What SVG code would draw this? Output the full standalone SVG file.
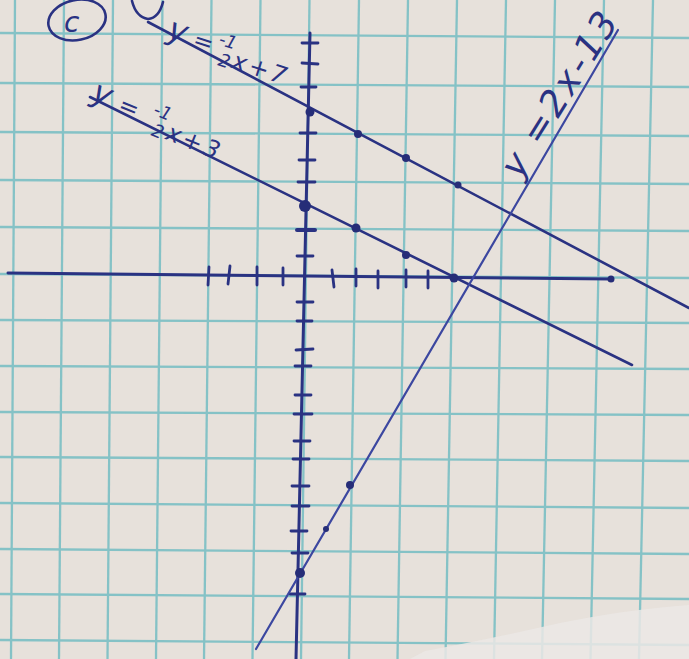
<svg xmlns="http://www.w3.org/2000/svg" width="689" height="659" viewBox="0 0 689 659">
<style>
.grid line{stroke:#85c2c6;stroke-width:2.3}
.ink{stroke:#2a3282;fill:none;stroke-linecap:round}
.ax{stroke-width:3}
.gl{stroke-width:2.6}
.tk{stroke:#2a3282;stroke-width:2.8;stroke-linecap:round}
.dot{fill:#262d78}
.lbl{fill:#2a3282;font-family:"DejaVu Sans","Liberation Sans",sans-serif;font-style:italic}
</style>
<rect width="689" height="659" fill="#e7e1db"/>
<g id="grid" class="grid">
<line x1="15" y1="0" x2="11" y2="659"/>
<line x1="64" y1="0" x2="59" y2="659"/>
<line x1="113" y1="0" x2="107.5" y2="659"/>
<line x1="162.5" y1="0" x2="156" y2="659"/>
<line x1="211.5" y1="0" x2="204" y2="659"/>
<line x1="260.5" y1="0" x2="252.5" y2="659"/>
<line x1="309.5" y1="0" x2="301" y2="659"/>
<line x1="359" y1="0" x2="349" y2="659"/>
<line x1="408" y1="0" x2="397.5" y2="659"/>
<line x1="457" y1="0" x2="445.5" y2="659"/>
<line x1="506" y1="0" x2="494" y2="659"/>
<line x1="555" y1="0" x2="542" y2="659"/>
<line x1="604" y1="0" x2="590.5" y2="659"/>
<line x1="653" y1="0" x2="639" y2="659"/>
<line x1="0" y1="33" x2="689" y2="38"/>
<line x1="0" y1="83" x2="689" y2="87"/>
<line x1="0" y1="132" x2="689" y2="136"/>
<line x1="0" y1="180" x2="689" y2="184"/>
<line x1="0" y1="227" x2="689" y2="231"/>
<line x1="0" y1="274" x2="689" y2="278"/>
<line x1="0" y1="320" x2="689" y2="323"/>
<line x1="0" y1="366" x2="689" y2="369"/>
<line x1="0" y1="412" x2="689" y2="415"/>
<line x1="0" y1="457" x2="689" y2="461"/>
<line x1="0" y1="503" x2="689" y2="508"/>
<line x1="0" y1="549" x2="689" y2="554"/>
<line x1="0" y1="594" x2="689" y2="599"/>
<line x1="0" y1="640" x2="689" y2="645"/>
</g>
<path id="fold" d="M410,659 L425,651 Q480,641 560,623 Q630,609 689,605 L689,659 Z" fill="#ebe7e5" opacity="0.85"/>
<g id="axes" class="ink ax">
<line x1="8" y1="273" x2="611" y2="279"/>
<line x1="310" y1="33" x2="296" y2="659"/>
</g>
<g id="x-ticks">
<line class="tk" x1="209" y1="267" x2="208" y2="285"/>
<line class="tk" x1="230" y1="266" x2="228" y2="284"/>
<line class="tk" x1="257" y1="267" x2="257" y2="285"/>
<line class="tk" x1="283" y1="268" x2="283" y2="285"/>
<line class="tk" x1="332" y1="270" x2="334" y2="287"/>
<line class="tk" x1="356" y1="269" x2="356" y2="286"/>
<line class="tk" x1="378" y1="271" x2="378" y2="288"/>
<line class="tk" x1="406" y1="270" x2="406" y2="287"/>
<line class="tk" x1="428" y1="271" x2="428" y2="288"/>
</g>
<g id="y-ticks">
<line class="tk" x1="302" y1="43" x2="318" y2="43"/>
<line class="tk" x1="302" y1="63" x2="318" y2="64"/>
<line class="tk" x1="301" y1="87" x2="316" y2="87"/>
<line class="tk" x1="300" y1="133" x2="316" y2="133"/>
<line class="tk" x1="299" y1="160" x2="315" y2="160"/>
<line class="tk" x1="298" y1="182" x2="315" y2="182"/>
<line class="tk" x1="297" y1="230" x2="315" y2="230" style="stroke-width:4"/>
<line class="tk" x1="297" y1="256" x2="313" y2="256"/>
<line class="tk" x1="297" y1="302" x2="313" y2="302"/>
<line class="tk" x1="297" y1="321" x2="312" y2="321"/>
<line class="tk" x1="296" y1="350" x2="313" y2="349"/>
<line class="tk" x1="295" y1="366" x2="311" y2="366"/>
<line class="tk" x1="295" y1="395" x2="311" y2="395"/>
<line class="tk" x1="294" y1="414" x2="312" y2="414"/>
<line class="tk" x1="294" y1="441" x2="310" y2="441"/>
<line class="tk" x1="293" y1="459" x2="309" y2="459"/>
<line class="tk" x1="292" y1="486" x2="309" y2="486"/>
<line class="tk" x1="292" y1="506" x2="309" y2="506"/>
<line class="tk" x1="291" y1="531" x2="307" y2="531"/>
<line class="tk" x1="292" y1="553" x2="308" y2="553"/>
<line class="tk" x1="290" y1="594" x2="305" y2="594"/>
</g>
<g id="graph-lines" class="ink gl">
<line id="line-a" x1="148" y1="22" x2="689" y2="308"/>
<line id="line-b" x1="90" y1="97" x2="632" y2="365"/>
<line id="line-c" x1="618" y1="30" x2="256" y2="649" style="stroke:#3c47a0;stroke-width:2.2"/>
</g>
<g id="points">
<circle class="dot" cx="310" cy="112" r="4.5"/>
<circle class="dot" cx="358" cy="134" r="4"/>
<circle class="dot" cx="406" cy="158" r="4"/>
<circle class="dot" cx="458" cy="185" r="3.5"/>
<circle class="dot" cx="305" cy="206" r="6"/>
<circle class="dot" cx="356" cy="228" r="4.5"/>
<circle class="dot" cx="406" cy="255" r="4"/>
<circle class="dot" cx="454" cy="278" r="4.5"/>
<circle class="dot" cx="611" cy="279" r="3.5"/>
<circle class="dot" cx="350" cy="485" r="4"/>
<circle class="dot" cx="326" cy="529" r="3"/>
<circle class="dot" cx="300" cy="573" r="5"/>
</g>
<g id="labels">
<g id="label-c">
<ellipse cx="77" cy="20" rx="29" ry="20" transform="rotate(-12 77 20)" class="ink" style="stroke-width:2.6"/>
<text class="lbl" x="64" y="32" font-size="28">c</text>
<path d="M132,1 Q136,17 148,19 Q159,18 163,2" class="ink" style="stroke-width:2.6"/>
</g>
<text id="label-a" class="lbl" transform="translate(166,38) rotate(18)" font-size="32">y<tspan dx="8" font-size="24">=</tspan><tspan font-size="18" dx="4" dy="-10">-1</tspan><tspan font-size="18" dx="-12" dy="20">2</tspan><tspan font-size="24" dx="2" dy="-2" letter-spacing="3">x+7</tspan></text>
<text id="label-b" class="lbl" transform="translate(90,100) rotate(22)" font-size="32">y<tspan dx="10" font-size="24">=</tspan><tspan font-size="18" dx="14" dy="-10">-1</tspan><tspan font-size="18" dx="-12" dy="20">2</tspan><tspan font-size="24" dx="3" dy="-2" letter-spacing="3">x+3</tspan></text>
<text id="label-c-eq" class="lbl" transform="translate(520,180) rotate(-58)" font-size="36" letter-spacing="3">y =2x-13</text>
</g>
</svg>
